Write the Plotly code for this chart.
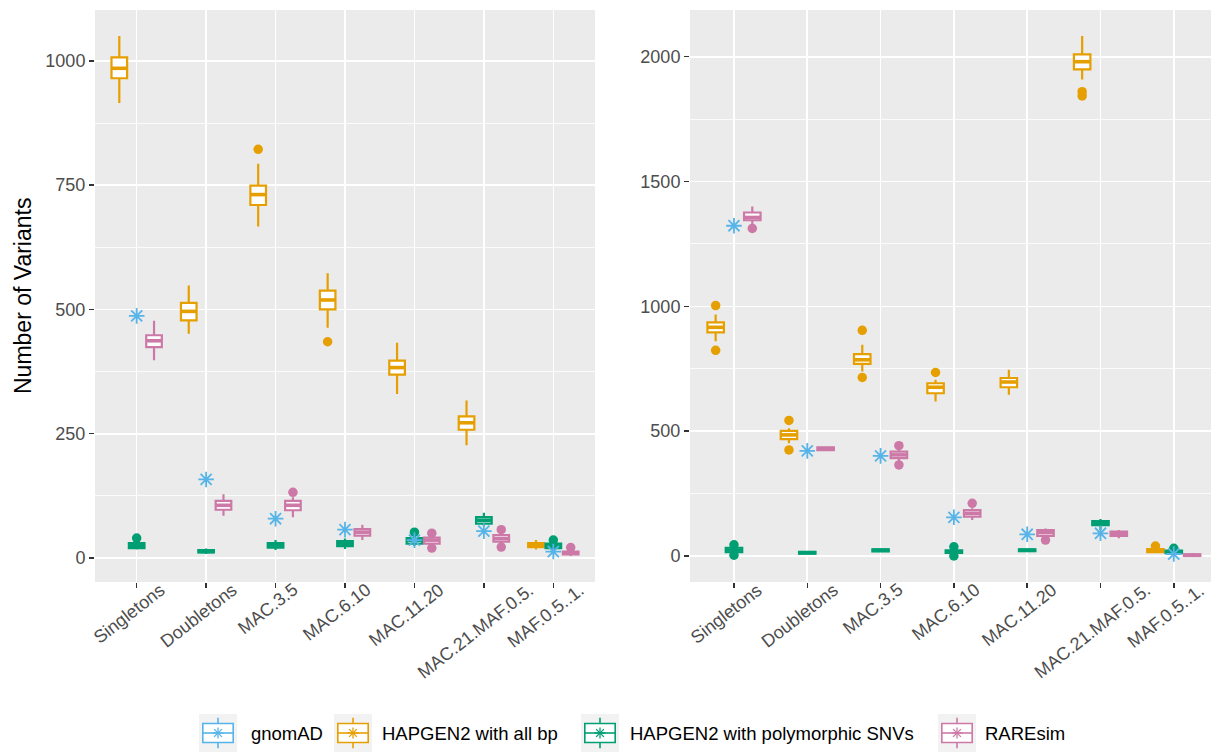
import plotly.graph_objects as go

# ---------------- data ----------------
categories = ["Singletons", "Doubletons", "MAC.3.5", "MAC.6.10",
              "MAC.11.20", "MAC.21.MAF.0.5.", "MAF.0.5..1."]

series_names = ["gnomAD", "HAPGEN2 with all bp",
                "HAPGEN2 with polymorphic SNVs", "RAREsim"]
series_colors = ["#56B4E9", "#E69F00", "#009E73", "#CC79A7"]

# ---- left panel ----
p1_gnomad = [487, 158, 79, 57, 36, 54, 13]

p1_allbp_low = [915, 451, 667, 463, 330, 227, 17]
p1_allbp_q1 = [965, 478, 710, 500, 369, 258, 22]
p1_allbp_med = [985, 496, 731, 519, 383, 272, 26]
p1_allbp_q3 = [1007, 513, 749, 538, 397, 285, 30]
p1_allbp_high = [1050, 548, 793, 573, 433, 317, 36]
p1_allbp_out = [[], [], [822], [435], [], [], []]

p1_poly_low = [17, 8, 16, 18, 24, 64, 15]
p1_poly_q1 = [20, 11, 21, 24, 29, 69, 20]
p1_poly_med = [25, 13, 26, 29, 36, 76, 25]
p1_poly_q3 = [30, 16, 30, 34, 40, 82, 29]
p1_poly_high = [33, 19, 36, 39, 45, 91, 33]
p1_poly_out = [[40], [], [], [], [52], [], [36]]

p1_rare_low = [398, 85, 82, 36, 26, 30, 4]
p1_rare_q1 = [424, 97, 96, 45, 29, 33, 7]
p1_rare_med = [437, 106, 106, 52, 36, 39, 10]
p1_rare_q3 = [448, 115, 115, 58, 41, 46, 13]
p1_rare_high = [477, 128, 122, 67, 45, 50, 17]
p1_rare_out = [[], [], [132], [], [50, 20], [57, 22], [21]]

# ---- right panel ----
p2_gnomad = [1323, 421, 401, 155, 87, 91, 8]

p2_allbp_low = [860, 452, 739, 619, 646, 1909, 11]
p2_allbp_q1 = [896, 468, 770, 652, 676, 1949, 15]
p2_allbp_med = [916, 485, 786, 676, 697, 1980, 22]
p2_allbp_q3 = [936, 501, 809, 692, 713, 2009, 28]
p2_allbp_high = [967, 512, 846, 706, 746, 2083, 33]
p2_allbp_out = [[1003, 824], [543, 425], [904, 715], [735], [], [1860, 1843], [40]]

p2_poly_low = [8, 5, 14, 6, 15, 104, 7]
p2_poly_q1 = [15, 9, 18, 12, 19, 124, 11]
p2_poly_med = [24, 13, 23, 17, 23, 133, 17]
p2_poly_q3 = [33, 17, 27, 23, 27, 140, 22]
p2_poly_high = [40, 21, 31, 30, 31, 148, 27]
p2_poly_out = [[45, 3], [], [], [37, 0], [], [], [31]]

p2_rare_low = [1330, 420, 380, 144, 75, 71, 0]
p2_rare_q1 = [1345, 424, 392, 158, 81, 81, 0]
p2_rare_med = [1356, 430, 405, 171, 94, 91, 3]
p2_rare_q3 = [1376, 435, 418, 184, 104, 98, 7]
p2_rare_high = [1400, 438, 430, 191, 110, 104, 12]
p2_rare_out = [[1312], [], [442, 365], [211], [64], [], []]

y_ticks_left = [0, 250, 500, 750, 1000]
y_ticks_right = [0, 500, 1000, 1500, 2000]

# ---------------- styling ----------------
W, H = 1211, 752
FONT = "Liberation Sans, Arial, Helvetica, sans-serif"
TICK_COLOR = "#4D4D4D"
PANEL_BG = "#EBEBEB"
LINE_W = 2.2
MED_W = 3.6
DODGE = 0.75
BOX_W = DODGE / 3 * 0.9

panel_top_px, panel_bottom_px = 10, 582
left_px = (95, 595)
right_px = (690, 1211)
right_unit_px = 73.3


def px_x(p):
    return p / W


def px_y(p):
    return 1 - p / H


fig = go.Figure()


def add_panel(xa, ya, box_series, gnomad):
    n = len(box_series)
    for k, (color, low, q1, med, q3, high, outs) in enumerate(box_series):
        off = (k - (n - 1) / 2) * DODGE / n
        xs = [i + off for i in range(len(categories))]
        fig.add_trace(go.Box(
            x=xs, q1=q1, median=med, q3=q3, lowerfence=low, upperfence=high,
            width=BOX_W, whiskerwidth=0, boxpoints=False,
            fillcolor="white", line=dict(color=color, width=LINE_W),
            xaxis=xa, yaxis=ya, showlegend=False, hoverinfo="skip"))
        # thicker median line (as in ggplot's fatten)
        mx, my = [], []
        for x, m in zip(xs, med):
            mx += [x - BOX_W / 2, x + BOX_W / 2, None]
            my += [m, m, None]
        fig.add_trace(go.Scatter(
            x=mx, y=my, mode="lines", line=dict(color=color, width=MED_W),
            xaxis=xa, yaxis=ya, showlegend=False, hoverinfo="skip"))
        ox, oy = [], []
        for i, vals in enumerate(outs):
            for v in vals:
                ox.append(i + off)
                oy.append(v)
        fig.add_trace(go.Scatter(
            x=ox, y=oy, mode="markers",
            marker=dict(symbol="circle", size=9.5, color=color),
            xaxis=xa, yaxis=ya, showlegend=False, hoverinfo="skip"))
    fig.add_trace(go.Scatter(
        x=list(range(len(categories))), y=gnomad, mode="markers",
        marker=dict(symbol="asterisk-open", size=13, color=series_colors[0],
                    line=dict(color=series_colors[0], width=1.8)),
        xaxis=xa, yaxis=ya, showlegend=False, hoverinfo="skip"))


add_panel("x", "y", [
    (series_colors[1], p1_allbp_low, p1_allbp_q1, p1_allbp_med, p1_allbp_q3, p1_allbp_high, p1_allbp_out),
    (series_colors[2], p1_poly_low, p1_poly_q1, p1_poly_med, p1_poly_q3, p1_poly_high, p1_poly_out),
    (series_colors[3], p1_rare_low, p1_rare_q1, p1_rare_med, p1_rare_q3, p1_rare_high, p1_rare_out),
], p1_gnomad)

add_panel("x2", "y2", [
    (series_colors[1], p2_allbp_low, p2_allbp_q1, p2_allbp_med, p2_allbp_q3, p2_allbp_high, p2_allbp_out),
    (series_colors[2], p2_poly_low, p2_poly_q1, p2_poly_med, p2_poly_q3, p2_poly_high, p2_poly_out),
    (series_colors[3], p2_rare_low, p2_rare_q1, p2_rare_med, p2_rare_q3, p2_rare_high, p2_rare_out),
], p2_gnomad)


def data_range(lists, scalars):
    vals = list(scalars)
    for l in lists:
        for v in l:
            if isinstance(v, list):
                vals.extend(v)
            else:
                vals.append(v)
    lo, hi = min(vals), max(vals)
    span = hi - lo
    return [lo - 0.05 * span, hi + 0.05 * span]


r1 = data_range([p1_allbp_low, p1_allbp_high, p1_allbp_out, p1_poly_low, p1_poly_high, p1_poly_out,
                 p1_rare_low, p1_rare_high, p1_rare_out], p1_gnomad)
r2 = data_range([p2_allbp_low, p2_allbp_high, p2_allbp_out, p2_poly_low, p2_poly_high, p2_poly_out,
                 p2_rare_low, p2_rare_high, p2_rare_out], p2_gnomad)

ydom = [px_y(panel_bottom_px), px_y(panel_top_px)]
n_cat = len(categories)

xcommon = dict(
    tickmode="array", tickvals=list(range(n_cat)), showticklabels=False,
    ticks="outside", ticklen=5, tickwidth=1.5, tickcolor="#333333",
    showgrid=True, gridcolor="white", gridwidth=1.6, zeroline=False,
    showline=False, fixedrange=True)
ycommon = dict(
    tickmode="array", ticks="outside", ticklen=5, tickwidth=1.5, tickcolor="#333333",
    tickfont=dict(family=FONT, size=18, color=TICK_COLOR),
    showgrid=True, gridcolor="white", gridwidth=1.6, zeroline=False,
    showline=False, fixedrange=True,
    minor=dict(showgrid=True, gridcolor="white", gridwidth=0.8, ticks=""))

fig.update_layout(
    width=W, height=H, autosize=False,
    margin=dict(l=0, r=0, t=0, b=0),
    paper_bgcolor="white", plot_bgcolor=PANEL_BG,
    font=dict(family=FONT, color=TICK_COLOR),
    showlegend=False,
    xaxis=dict(domain=[px_x(left_px[0]), px_x(left_px[1])],
               range=[-0.6, n_cat - 0.4], anchor="y", **xcommon),
    yaxis=dict(domain=ydom, range=r1, anchor="x", tickvals=y_ticks_left,
               **{**ycommon, "minor": dict(ycommon["minor"], dtick=125, tick0=0)}),
    xaxis2=dict(domain=[px_x(right_px[0]), px_x(right_px[1])],
                range=[-0.6, -0.6 + (right_px[1] - right_px[0]) / right_unit_px],
                anchor="y2", **xcommon),
    yaxis2=dict(domain=ydom, range=r2, anchor="x2", tickvals=y_ticks_right,
                **{**ycommon, "minor": dict(ycommon["minor"], dtick=250, tick0=0)}),
)

annotations = []
# rotated category labels
for xref in ("x", "x2"):
    for i, c in enumerate(categories):
        annotations.append(dict(
            x=i, y=px_y(577), xref=xref, yref="paper", text=c,
            showarrow=False, textangle=-38, xanchor="center", yanchor="top",
            xshift=-8, font=dict(family=FONT, size=18, color=TICK_COLOR)))

# y axis title
annotations.append(dict(
    x=px_x(23), y=px_y(296), xref="paper", yref="paper",
    text="Number of Variants", showarrow=False, textangle=-90,
    xanchor="center", yanchor="middle",
    font=dict(family=FONT, size=23, color="black")))

# ---------------- legend (drawn manually: box key with asterisk) ----------------
shapes = []
key_size = 38
key_cy = 733
key_left = [199, 334, 581, 938]
text_left = [249, 380, 628, 983]


def pline(x0, y0, x1, y1, color, width):
    shapes.append(dict(type="line", xref="paper", yref="paper",
                       x0=px_x(x0), y0=px_y(y0), x1=px_x(x1), y1=px_y(y1),
                       line=dict(color=color, width=width), layer="above"))


for name, color, kx, tx in zip(series_names, series_colors, key_left, text_left):
    ky = key_cy - key_size / 2
    shapes.append(dict(type="rect", xref="paper", yref="paper",
                       x0=px_x(kx), x1=px_x(kx + key_size),
                       y0=px_y(ky), y1=px_y(ky + key_size),
                       fillcolor="#F2F2F2", line=dict(width=0), layer="above"))
    bx0, bx1 = kx + 0.1 * key_size, kx + 0.9 * key_size
    by0, by1 = ky + 0.25 * key_size, ky + 0.75 * key_size
    cx = kx + key_size / 2
    pline(cx, ky + 0.1 * key_size, cx, by0, color, 1.6)
    pline(cx, by1, cx, ky + 0.9 * key_size, color, 1.6)
    shapes.append(dict(type="rect", xref="paper", yref="paper",
                       x0=px_x(bx0), x1=px_x(bx1), y0=px_y(by0), y1=px_y(by1),
                       fillcolor="white", line=dict(color=color, width=1.6), layer="above"))
    pline(bx0, key_cy, bx1, key_cy, color, 1.6)
    # asterisk
    r = 5.5
    d = r * 0.7071
    pline(cx - r, key_cy, cx + r, key_cy, color, 1.3)
    pline(cx, key_cy - r, cx, key_cy + r, color, 1.3)
    pline(cx - d, key_cy - d, cx + d, key_cy + d, color, 1.3)
    pline(cx - d, key_cy + d, cx + d, key_cy - d, color, 1.3)
    annotations.append(dict(
        x=px_x(tx), y=px_y(key_cy), xref="paper", yref="paper", text=name,
        showarrow=False, xanchor="left", yanchor="middle",
        font=dict(family=FONT, size=18.5, color="black")))

fig.update_layout(annotations=annotations, shapes=shapes)

fig.write_html("out.html",
               config={"displayModeBar": False, "staticPlot": True},
               post_script="document.body.style.margin='0';"
                           "document.body.style.overflow='hidden';")
